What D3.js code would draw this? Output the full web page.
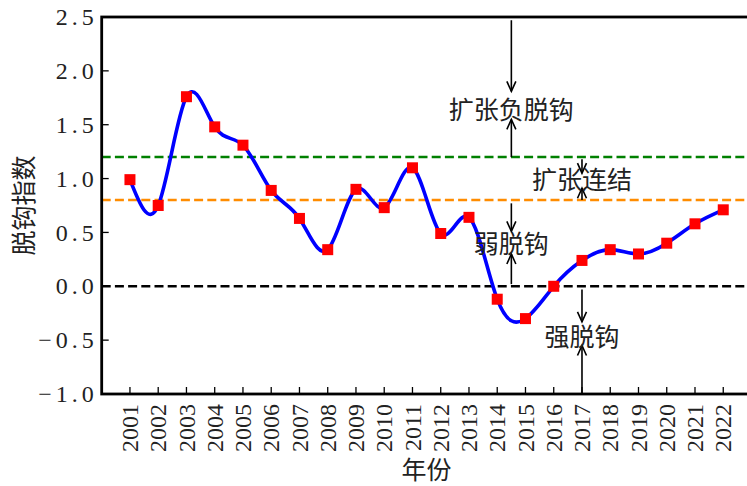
<!DOCTYPE html>
<html><head><meta charset="utf-8">
<script src="https://cdn.jsdelivr.net/npm/d3@7"></script>
<style>
html,body{margin:0;padding:0;background:#fff;}
svg{display:block;}
.serif{font-family:"Liberation Serif","Times New Roman","DejaVu Serif",Times,serif;}
.cjk{font-family:"Noto Sans CJK SC","Noto Sans CJK JP",sans-serif;}
</style></head>
<body>
<svg id="chart" width="747" height="486"></svg>
<script>
// ---- data ----
const years = [2001,2002,2003,2004,2005,2006,2007,2008,2009,2010,2011,2012,2013,2014,2015,2016,2017,2018,2019,2020,2021,2022];
const index = [0.99,0.75,1.76,1.48,1.31,0.89,0.63,0.34,0.90,0.73,1.10,0.49,0.64,-0.12,-0.30,0.00,0.24,0.34,0.30,0.40,0.58,0.71];
const yTicks = [-1.0,-0.5,0.0,0.5,1.0,1.5,2.0,2.5];
const thresholdValues = [1.2, 0.8, 0.0];
const thresholdColors = ["#008000", "#ff8c00", "#000000"];
const zoneLabels = ["扩张负脱钩", "扩张连结", "弱脱钩", "强脱钩"];
const zoneLabelX = [2014.5, 2017.0, 2014.5, 2017.0];
const zoneLabelY = [1.64, 0.99, 0.39, -0.47];
// arrows: [x, from y, to y (head)]
const zoneArrows = [
  [2014.5, 2.47, 1.81], [2014.5, 1.20, 1.55],
  [2017.0, 1.18, 1.05], [2017.0, 0.80, 0.91],
  [2014.5, 0.77, 0.51], [2014.5, 0.02, 0.30],
  [2017.0, -0.03, -0.33], [2017.0, -1.0, -0.55]
];
const xLabel = "年份";
const yLabel = "脱钩指数";

// ---- layout ----
const svg = d3.select("#chart");
const L = 101.7, R = 751.5, T = 17, B = 394;
const x = d3.scaleLinear().domain([2000, 2023]).range([L, R]);
const y = d3.scaleLinear().domain([-1, 2.5]).range([B, T]);

// threshold lines
svg.append("g").selectAll("line").data(thresholdValues).join("line")
  .attr("x1", L).attr("x2", R)
  .attr("y1", d => y(d)).attr("y2", d => y(d))
  .attr("stroke", (d,i) => thresholdColors[i])
  .attr("stroke-width", 2.5)
  .attr("stroke-dasharray", "9,4.2");

// curve
const data = years.map((yr, i) => ({yr, v: index[i]}));
svg.append("path").datum(data)
  .attr("d", d3.line().x(d => x(d.yr)).y(d => y(d.v)).curve(d3.curveNatural))
  .attr("fill", "none").attr("stroke", "#0000ff").attr("stroke-width", 3.6);

// markers
const ms = 11;
svg.append("g").selectAll("rect").data(data).join("rect")
  .attr("x", d => x(d.yr) - ms/2).attr("y", d => y(d.v) - ms/2)
  .attr("width", ms).attr("height", ms).attr("fill", "#ff0000");

// arrows
const ag = svg.append("g").attr("stroke", "#000").attr("stroke-width", 1.6).attr("fill", "none");
zoneArrows.forEach(([ax, y0, y1]) => {
  const px = x(ax), p0 = y(y0), p1 = y(y1);
  const dir = p1 > p0 ? 1 : -1;
  ag.append("line").attr("x1", px).attr("x2", px).attr("y1", p0).attr("y2", p1);
  ag.append("path").attr("d", `M${px-4.5},${p1 - dir*10} L${px},${p1} L${px+4.5},${p1 - dir*10}`);
});

// zone labels
svg.append("g").selectAll("text").data(zoneLabels).join("text")
  .attr("class", "cjk")
  .attr("x", (d,i) => x(zoneLabelX[i])).attr("y", (d,i) => y(zoneLabelY[i]))
  .attr("dy", "0.36em").attr("text-anchor", "middle")
  .attr("font-size", 25).attr("fill", "#222")
  .text(d => d);

// frame (spines)
svg.append("rect").attr("x", L).attr("y", T).attr("width", R - L).attr("height", B - T)
  .attr("fill", "none").attr("stroke", "#000").attr("stroke-width", 2.8);

// y ticks
const yg = svg.append("g");
yg.selectAll("line").data(yTicks).join("line")
  .attr("x1", L).attr("x2", L + 7).attr("y1", d => y(d)).attr("y2", d => y(d))
  .attr("stroke", "#000").attr("stroke-width", 1.3);
yg.selectAll("text").data(yTicks).join("text")
  .attr("class", "serif")
  .attr("x", L - 4).attr("y", d => y(d)).attr("dy", "0.34em")
  .attr("text-anchor", "end").attr("font-size", 24)
  .attr("letter-spacing", "4px").attr("fill", "#222")
  .text(d => d3.format(".1f")(d).replace("-", "\u2212"));

// x ticks
const xg = svg.append("g");
xg.selectAll("line").data(years).join("line")
  .attr("x1", d => x(d)).attr("x2", d => x(d)).attr("y1", B).attr("y2", B - 7)
  .attr("stroke", "#000").attr("stroke-width", 1.3);
xg.selectAll("text").data(years).join("text")
  .attr("class", "serif")
  .attr("transform", d => `translate(${x(d)},${B + 10}) rotate(-90)`)
  .attr("dy", "0.34em").attr("text-anchor", "end")
  .attr("font-size", 24).attr("fill", "#222")
  .text(d => String(d));

// axis labels
svg.append("text").attr("class", "cjk").attr("x", (L + R) / 2).attr("y", 470).attr("dy", "0.36em")
  .attr("text-anchor", "middle").attr("font-size", 25).attr("fill", "#222")
  .text(xLabel);
svg.append("text").attr("class", "cjk").attr("transform", `translate(24,${(T + B) / 2}) rotate(-90)`)
  .attr("dy", "0.36em").attr("text-anchor", "middle")
  .attr("font-size", 25).attr("fill", "#222")
  .text(yLabel);
</script>
</body></html>
